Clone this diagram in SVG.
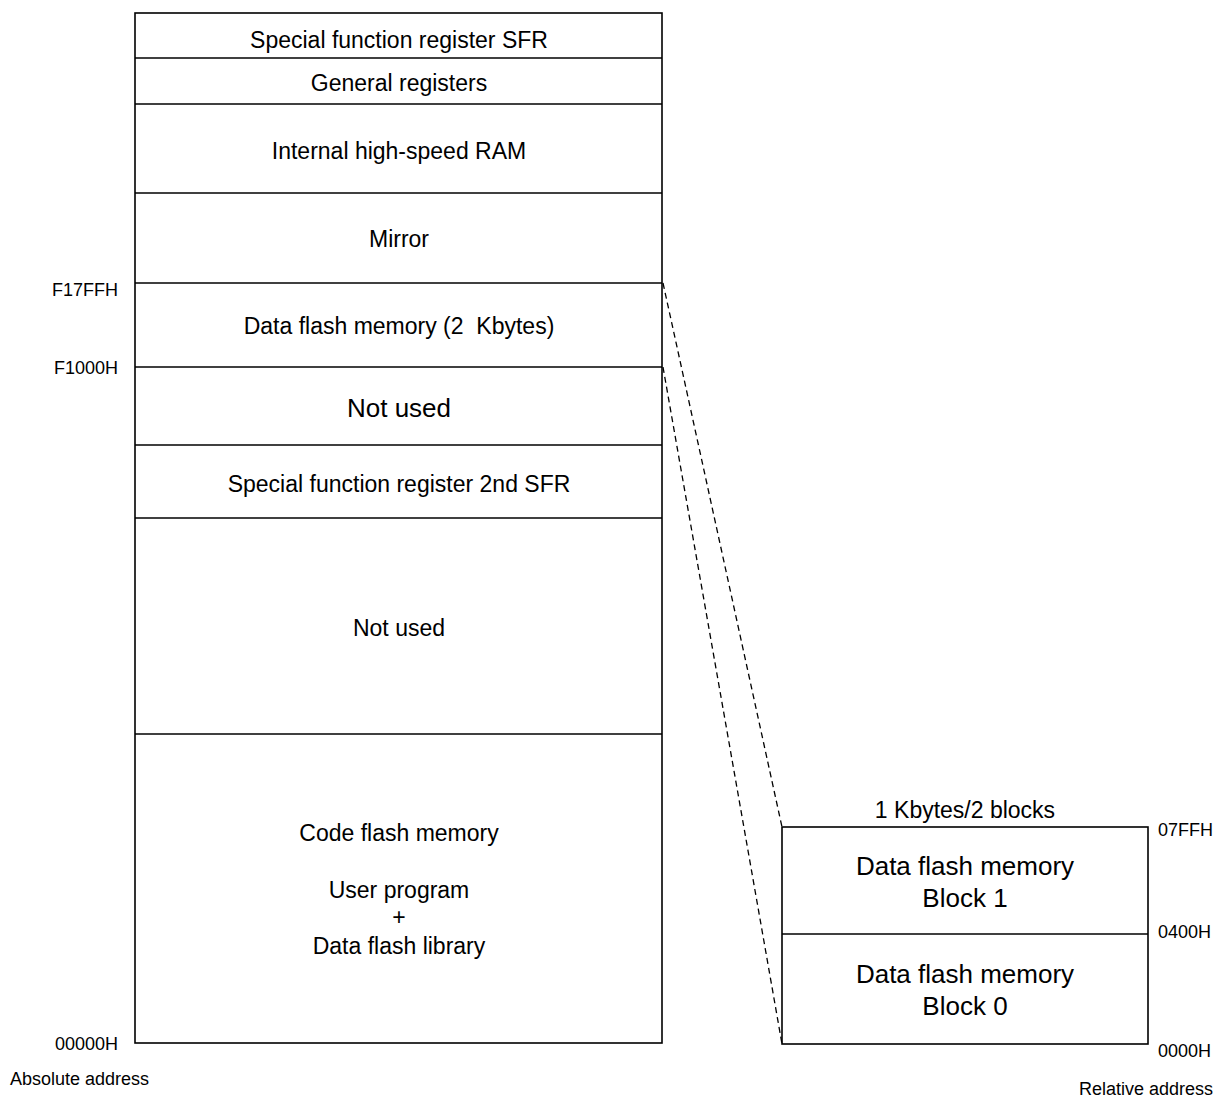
<svg xmlns="http://www.w3.org/2000/svg" width="1223" height="1097" viewBox="0 0 1223 1097">
<style>
.box{fill:#fff;stroke:#000;stroke-width:1.6}
.div{stroke:#000;stroke-width:1.6}
.t{font-family:"Liberation Sans",Arial,sans-serif;font-size:23px;fill:#000;text-anchor:middle}
.tb{font-family:"Liberation Sans",Arial,sans-serif;font-size:26px;fill:#000;text-anchor:middle}
.a{font-family:"Liberation Sans",Arial,sans-serif;font-size:18px;fill:#000}
.dash{stroke:#000;stroke-width:1.3;stroke-dasharray:6 4;fill:none}
</style>
<rect width="1223" height="1097" fill="#fff"/>
<g id="memory-map">
<rect class="box" x="135" y="13" width="527" height="1030"/>
<g id="sfr"><line class="div" x1="135" y1="58" x2="662" y2="58"/><text class="t" x="399" y="48">Special function register SFR</text></g>
<g id="general-registers"><line class="div" x1="135" y1="104" x2="662" y2="104"/><text class="t" x="399" y="91">General registers</text></g>
<g id="ram"><line class="div" x1="135" y1="193" x2="662" y2="193"/><text class="t" x="399" y="159">Internal high-speed RAM</text></g>
<g id="mirror"><line class="div" x1="135" y1="283" x2="662" y2="283"/><text class="t" x="399" y="247">Mirror</text></g>
<g id="data-flash"><line class="div" x1="135" y1="367" x2="662" y2="367"/><text class="t" x="399" y="334" style="white-space:pre">Data flash memory (2  Kbytes)</text></g>
<g id="not-used-1"><line class="div" x1="135" y1="445" x2="662" y2="445"/><text class="tb" x="399" y="417">Not used</text></g>
<g id="sfr2"><line class="div" x1="135" y1="518" x2="662" y2="518"/><text class="t" x="399" y="492">Special function register 2nd SFR</text></g>
<g id="not-used-2"><line class="div" x1="135" y1="734" x2="662" y2="734"/><text class="t" x="399" y="636">Not used</text></g>
<g id="code-flash">
<text class="t" x="399" y="841">Code flash memory</text>
<text class="t" x="399" y="898">User program</text>
<text class="t" x="399" y="925">+</text>
<text class="t" x="399" y="954">Data flash library</text>
</g>
<g id="abs-labels">
<text class="a" x="118" y="296" text-anchor="end">F17FFH</text>
<text class="a" x="118" y="374" text-anchor="end">F1000H</text>
<text class="a" x="118" y="1050" text-anchor="end">00000H</text>
<text class="a" x="10" y="1085">Absolute address</text>
</g>
</g>
<g id="data-flash-blocks">
<rect class="box" x="782" y="827" width="366" height="217"/>
<line class="div" x1="782" y1="934" x2="1148" y2="934"/>
<text class="t" x="965" y="818">1 Kbytes/2 blocks</text>
<g id="block1"><text class="tb" x="965" y="875">Data flash memory</text><text class="tb" x="965" y="907">Block 1</text></g>
<g id="block0"><text class="tb" x="965" y="983">Data flash memory</text><text class="tb" x="965" y="1015">Block 0</text></g>
<text class="a" x="1158" y="836">07FFH</text>
<text class="a" x="1158" y="938">0400H</text>
<text class="a" x="1158" y="1057">0000H</text>
<text class="a" x="1213" y="1095" text-anchor="end">Relative address</text>
</g>
<g id="connectors">
<line class="dash" x1="663" y1="283" x2="782" y2="827"/>
<line class="dash" x1="663" y1="367" x2="782" y2="1044"/>
</g>
</svg>
